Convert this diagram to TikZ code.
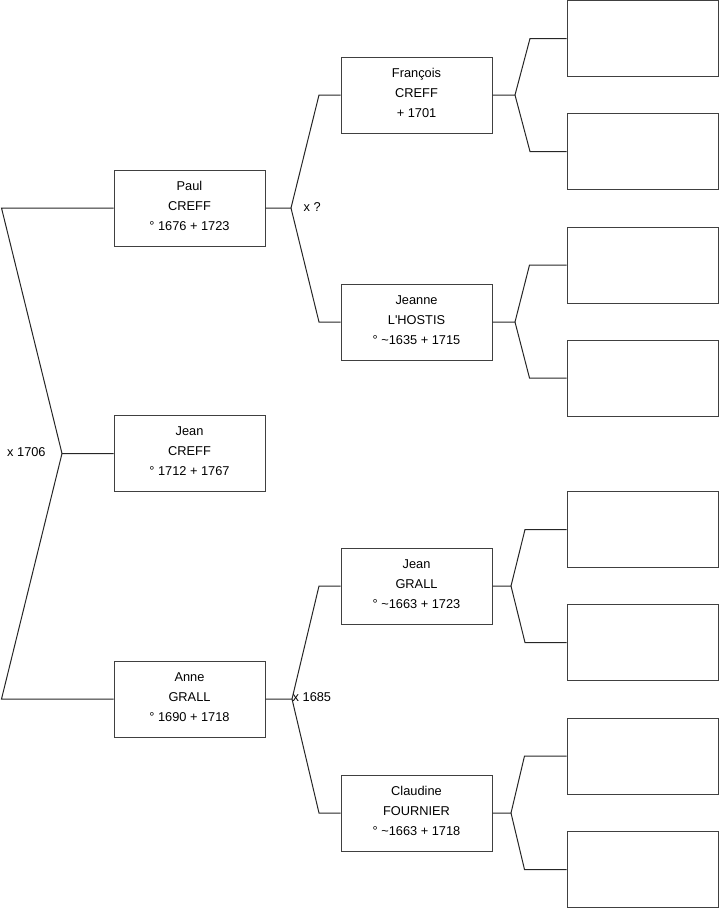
\documentclass[tikz,border=0pt]{standalone}
\usepackage{fontspec}
\setmainfont{Liberation Sans}
\newcommand{\lowdp}{\rule[-4pt]{0pt}{4pt}}
\begin{document}
\begin{tikzpicture}[x=1pt,y=-1pt,
  box/.style={draw=black!75, line width=1pt, minimum width=151pt, minimum height=76pt,
    inner sep=0pt, align=center, font=\fontsize{12.8}{20}\selectfont},
  link/.style={draw=black!85, line width=1pt},
  lbl/.style={font=\fontsize{12.8}{14}\selectfont, inner sep=0pt, anchor=west}]
\useasboundingbox (0,0) rectangle (719,908);

% generation 1
\node[box] (paul) at (189.5,208) {Paul\\CREFF\\° 1676 + 1723\lowdp};
\node[box] (jeanc) at (189.5,453.5) {Jean\\CREFF\\° 1712 + 1767\lowdp};
\node[box] (anne) at (189.5,699) {Anne\\GRALL\\° 1690 + 1718\lowdp};

% generation 2
\node[box] (francois) at (416.5,95) {François\\CREFF\\+ 1701\lowdp};
\node[box] (jeanne) at (416.5,322) {Jeanne\\L\textquotesingle HOSTIS\\° \textasciitilde 1635 + 1715\lowdp};
\node[box] (jeang) at (416.5,586) {Jean\\GRALL\\° \textasciitilde 1663 + 1723\lowdp};
\node[box] (claudine) at (416.5,813) {Claudine\\FOURNIER\\° \textasciitilde 1663 + 1718\lowdp};

% generation 3 (empty)
\node[box] (b1) at (642.5,38.5) {};
\node[box] (b2) at (642.5,151.5) {};
\node[box] (b3) at (642.5,265) {};
\node[box] (b4) at (642.5,378) {};
\node[box] (b5) at (642.5,529.5) {};
\node[box] (b6) at (642.5,642.5) {};
\node[box] (b7) at (642.5,756) {};
\node[box] (b8) at (642.5,869.5) {};

% fork coordinates
\coordinate (L) at (62,453.5);
\coordinate (LT) at (1.5,208);
\coordinate (LB) at (1.5,699);
\coordinate (P) at (291,208);
\coordinate (Pu) at (319,95);
\coordinate (Pd) at (319,322);
\coordinate (A) at (292,699);
\coordinate (Au) at (319,586);
\coordinate (Ad) at (319,813);
\coordinate (F) at (515,95);
\coordinate (Fu) at (530,38.5);
\coordinate (Fd) at (530,151.5);
\coordinate (J) at (515,322);
\coordinate (Ju) at (529.5,265);
\coordinate (Jd) at (529.5,378);
\coordinate (G) at (511,586);
\coordinate (Gu) at (525,529.5);
\coordinate (Gd) at (525,642.5);
\coordinate (C) at (511,813);
\coordinate (Cu) at (524.5,756);
\coordinate (Cd) at (524.5,869.5);

% connectors
\draw[link] (jeanc.west) -- (L) -- (LT) -- (paul.west);
\draw[link] (L) -- (LB) -- (anne.west);
\draw[link] (paul.east) -- (P) -- (Pu) -- (francois.west);
\draw[link] (P) -- (Pd) -- (jeanne.west);
\draw[link] (anne.east) -- (A) -- (Au) -- (jeang.west);
\draw[link] (A) -- (Ad) -- (claudine.west);
\draw[link] (francois.east) -- (F) -- (Fu) -- (b1.west);
\draw[link] (F) -- (Fd) -- (b2.west);
\draw[link] (jeanne.east) -- (J) -- (Ju) -- (b3.west);
\draw[link] (J) -- (Jd) -- (b4.west);
\draw[link] (jeang.east) -- (G) -- (Gu) -- (b5.west);
\draw[link] (G) -- (Gd) -- (b6.west);
\draw[link] (claudine.east) -- (C) -- (Cu) -- (b7.west);
\draw[link] (C) -- (Cd) -- (b8.west);

% marriage labels
\node[lbl] (m1) at (7,452) {x 1706};
\node[lbl] (m2) at (303.5,207) {x ?};
\node[lbl] (m3) at (292.5,697.5) {x 1685};
\end{tikzpicture}
\end{document}
